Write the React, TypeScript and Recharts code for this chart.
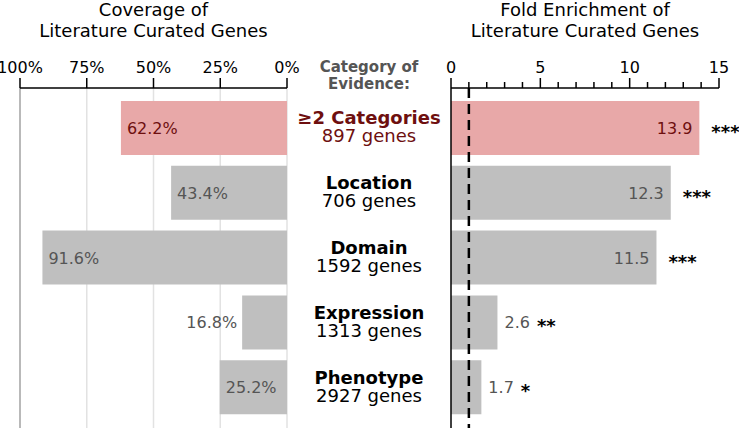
import React from 'react';
import {
  BarChart,
  Bar,
  XAxis,
  YAxis,
  CartesianGrid,
  ReferenceLine,
  LabelList,
  Cell,
} from 'recharts';

const categories = ['≥2 Categories', 'Location', 'Domain', 'Expression', 'Phenotype'];
const geneCounts = [897, 706, 1592, 1313, 2927];
const coverage = [62.2, 43.4, 91.6, 16.8, 25.2];
const enrichment = [13.9, 12.3, 11.5, 2.6, 1.7];
const significance = ['***', '***', '***', '**', '*'];
const coverageTicks = [0, 25, 50, 75, 100];
const enrichTicks = [0, 1, 2, 3, 4, 5, 6, 7, 8, 9, 10, 11, 12, 13, 14, 15];

const data = categories.map((name, i) => ({
  name,
  genes: geneCounts[i],
  coverage: coverage[i],
  enrichment: enrichment[i],
  stars: significance[i],
}));

const PINK = '#e8a8a8';
const GRAY = '#bfbfbf';
const MAROON = '#6e0f0f';
const LABEL_GRAY = '#555';
const FONT = '"DejaVu Sans", sans-serif';

const renderCoverageLabel = (props: any) => {
  const { x, y, width, height, value, index } = props;
  const left = Math.min(x, x + width);
  const cy = y + height / 2;
  const inside = value > 20;
  return (
    <text
      x={inside ? left + 6 : left - 5}
      y={cy + 6}
      textAnchor={inside ? 'start' : 'end'}
      fill={index === 0 ? MAROON : LABEL_GRAY}
      fontSize={16}
    >
      {Number(value).toFixed(1)}%
    </text>
  );
};

const renderEnrichLabel = (props: any) => {
  const { x, y, width, height, value, index } = props;
  const right = Math.max(x, x + width);
  const cy = y + height / 2;
  const stars = significance[index];
  const color = index === 0 ? MAROON : LABEL_GRAY;
  if (value > 5) {
    return (
      <g>
        <text x={right - 7} y={cy + 6} textAnchor="end" fill={color} fontSize={16}>
          {Number(value).toFixed(1)}
        </text>
        <text x={right + 12} y={cy + 10} fill="#000" fontSize={18} fontWeight="bold">
          {stars}
        </text>
      </g>
    );
  }
  return (
    <text x={right + 7} y={cy + 6} fill={color} fontSize={16}>
      <tspan>{Number(value).toFixed(1)}</tspan>
      <tspan dx={7} dy={4} fill="#000" fontWeight="bold" fontSize={18}>
        {stars}
      </tspan>
    </text>
  );
};

const EnrichTick = (props: any) => {
  const { x, y, payload } = props;
  const major = payload.value % 5 === 0;
  const base = y + 15;
  return (
    <g>
      <line x1={x} x2={x} y1={base} y2={base - (major ? 10 : 6)} stroke="#000" strokeWidth={1.5} />
      {major && (
        <text x={x} y={y} textAnchor="middle" fill="#000" fontSize={16}>
          {payload.value}
        </text>
      )}
    </g>
  );
};

const CategoryTick = (props: any) => {
  const { x, y, payload, index } = props;
  const cx = x - 82;
  const color = index === 0 ? MAROON : '#000';
  return (
    <g>
      <text x={cx} y={y - 4} textAnchor="middle" fill={color} fontSize={18} fontWeight="bold">
        {payload.value}
      </text>
      <text x={cx} y={y + 14} textAnchor="middle" fill={color} fontSize={18}>
        {geneCounts[index]} genes
      </text>
    </g>
  );
};

export default function App() {
  return (
    <div
      style={{
        position: 'absolute',
        left: 0,
        top: 0,
        width: 739,
        height: 428,
        background: '#fff',
        fontFamily: FONT,
      }}
    >
      <div style={{ position: 'absolute', left: 0, top: 0 }}>
        <BarChart
          width={300}
          height={428}
          data={data}
          layout="vertical"
          margin={{ top: 58, right: 13, bottom: 0, left: 20 }}
        >
          <CartesianGrid horizontal={false} stroke="#e2e2e2" strokeWidth={1.5} />
          <XAxis
            type="number"
            orientation="top"
            domain={[0, 100]}
            ticks={coverageTicks}
            reversed
            height={30}
            tickSize={10}
            tickMargin={5}
            tickFormatter={(v) => `${v}%`}
            tick={{ fill: '#000', fontSize: 16 }}
            axisLine={{ stroke: '#000', strokeWidth: 1.5 }}
            tickLine={{ stroke: '#000', strokeWidth: 1.5 }}
          />
          <YAxis
            type="category"
            dataKey="name"
            orientation="right"
            width={0}
            tick={false}
            tickLine={false}
            padding={{ top: 8, bottom: 8 }}
            axisLine={{ stroke: '#000', strokeWidth: 1.5 }}
          />
          <ReferenceLine x={100} stroke="#a8a8a8" strokeWidth={1.5} />
          <Bar dataKey="coverage" barSize={54} isAnimationActive={false}>
            {data.map((d, i) => (
              <Cell key={d.name} fill={i === 0 ? PINK : GRAY} />
            ))}
            <LabelList dataKey="coverage" content={renderCoverageLabel} />
          </Bar>
        </BarChart>
      </div>
      <div style={{ position: 'absolute', left: 287, top: 0 }}>
        <BarChart
          width={452}
          height={428}
          data={data}
          layout="vertical"
          margin={{ top: 58, right: 20, bottom: 0, left: 0 }}
        >
          <XAxis
            type="number"
            orientation="top"
            domain={[0, 15]}
            ticks={enrichTicks}
            interval={0}
            height={30}
            tickSize={10}
            tickMargin={5}
            tickLine={false}
            tick={<EnrichTick />}
            axisLine={{ stroke: '#000', strokeWidth: 1.5 }}
          />
          <YAxis
            type="category"
            dataKey="name"
            orientation="left"
            width={164}
            tickSize={0}
            tickMargin={0}
            tickLine={false}
            padding={{ top: 8, bottom: 8 }}
            tick={<CategoryTick />}
            axisLine={{ stroke: '#000', strokeWidth: 1.5 }}
          />
          <Bar dataKey="enrichment" barSize={54} isAnimationActive={false}>
            {data.map((d, i) => (
              <Cell key={d.name} fill={i === 0 ? PINK : GRAY} />
            ))}
            <LabelList dataKey="enrichment" content={renderEnrichLabel} />
          </Bar>
          <ReferenceLine x={1} stroke="#000" strokeWidth={2.5} strokeDasharray="10 6" />
        </BarChart>
      </div>
      <svg
        width={739}
        height={428}
        style={{ position: 'absolute', left: 0, top: 0, pointerEvents: 'none' }}
      >
        <g fontFamily={FONT} fontSize={18} textAnchor="middle" fill="#000">
          <text x={153.5} y={16}>Coverage of</text>
          <text x={153.5} y={37}>Literature Curated Genes</text>
          <text x={585} y={16}>Fold Enrichment of</text>
          <text x={585} y={37}>Literature Curated Genes</text>
        </g>
        <g fontFamily={FONT} fontSize={15} fontWeight="bold" textAnchor="middle" fill="#555">
          <text x={369} y={72}>Category of</text>
          <text x={369} y={89}>Evidence:</text>
        </g>
      </svg>
    </div>
  );
}
